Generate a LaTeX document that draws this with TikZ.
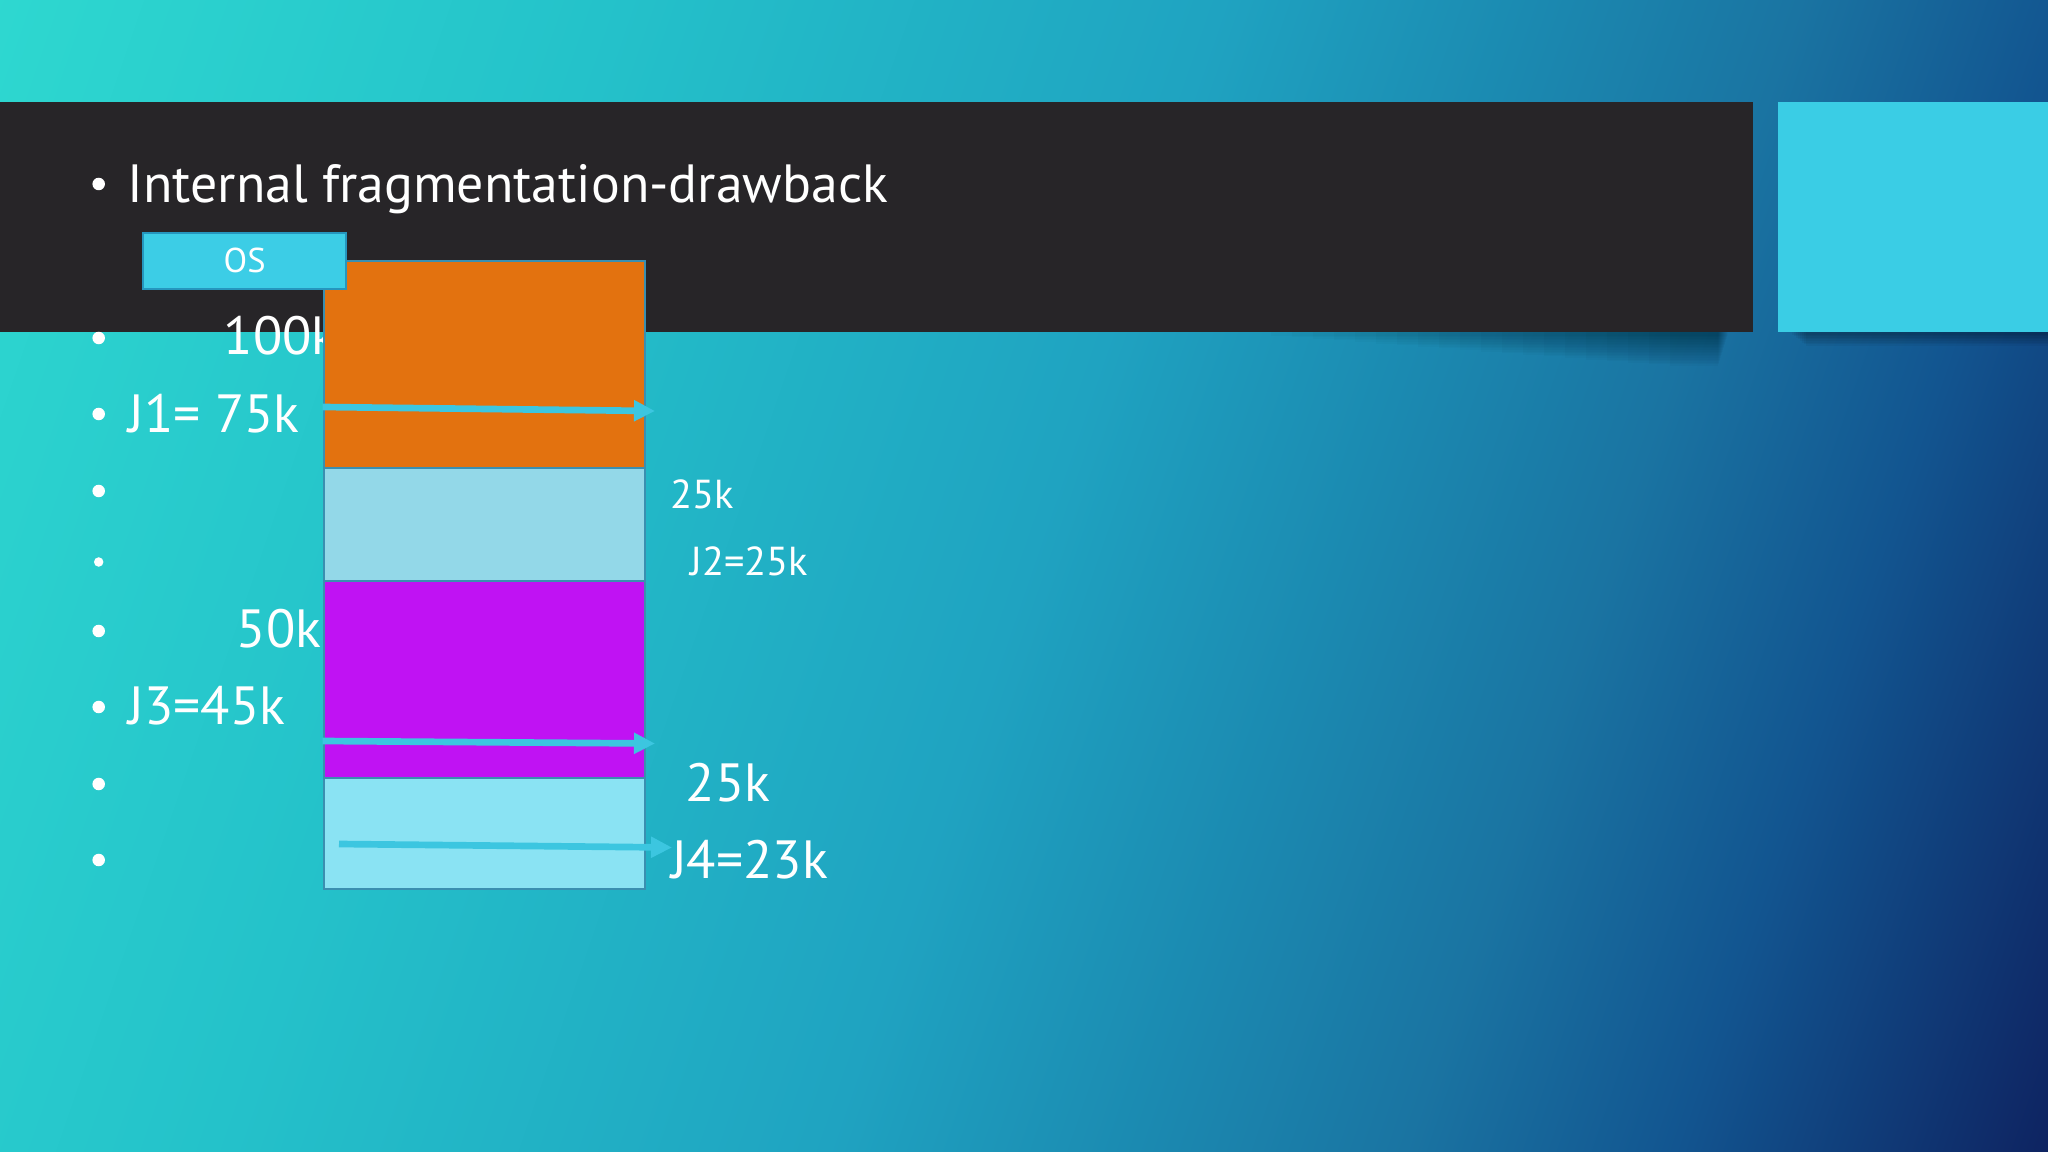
\documentclass[tikz,border=0pt]{standalone}
\usepackage{fontspec}
\setmainfont{PT Sans}
\usetikzlibrary{arrows.meta}
\definecolor{bgA}{HTML}{2ED8D0}
\definecolor{bgB}{HTML}{24C2CA}
\definecolor{bgC}{HTML}{1FA3C1}
\definecolor{bgD}{HTML}{1B8AB1}
\definecolor{bgE}{HTML}{1A74A2}
\definecolor{bgF}{HTML}{125590}
\definecolor{bgG}{HTML}{0E2260}
\definecolor{bandgray}{HTML}{272528}
\definecolor{sqcyan}{HTML}{3ACDE5}
\definecolor{oscyan}{HTML}{3CCDE6}
\definecolor{osline}{HTML}{2596BE}
\definecolor{segline}{HTML}{3A8FB0}
\definecolor{segorange}{HTML}{E3720F}
\definecolor{seglight}{HTML}{93D8E8}
\definecolor{segpurple}{HTML}{C012F3}
\definecolor{seglighter}{HTML}{8AE3F3}
\definecolor{arrowcyan}{HTML}{3CC6E0}
\pgfdeclarehorizontalshading{slidebg}{100bp}{color(0bp)=(bgA); color(18bp)=(bgA); color(34bp)=(bgB); color(50bp)=(bgC); color(58bp)=(bgD); color(65bp)=(bgE); color(72bp)=(bgF); color(82bp)=(bgG); color(100bp)=(bgG)}
\begin{document}
\begin{tikzpicture}[x=0.01cm, y=-0.01cm,
  biglbl/.style={text=white, inner sep=0pt, anchor=base west, font=\fontsize{15.3pt}{18pt}\selectfont},
  smalllbl/.style={text=white, inner sep=0pt, anchor=base west, font=\fontsize{11.5pt}{13pt}\selectfont},
  dot/.style={circle, fill=white, inner sep=0pt, minimum size=0.125cm},
  smalldot/.style={circle, fill=white, inner sep=0pt, minimum size=0.095cm},
  seg/.style={rectangle, draw=segline, line width=0.6pt, inner sep=0pt, minimum width=3.214cm, anchor=north west},
  osbox/.style={rectangle, fill=oscyan, draw=osline, line width=0.6pt, inner sep=0pt, minimum width=2.03cm, minimum height=0.555cm, text=white, font=\fontsize{9.8pt}{11pt}\selectfont},
  jarrow/.style={draw=arrowcyan, line width=1.9pt, -{Triangle[length=0.21cm, width=0.2cm]}}
]
\useasboundingbox (0,0) rectangle (2048,1152);
% background
\shade[shading=slidebg, shading angle=-19] (0,0) rectangle (2048,1152);
% shadows
\foreach \i in {1,...,20} {
  \fill[black, opacity=0.02] (1250+21*\i,332) rectangle (1728-0.5*\i,334+1.6*\i);
}
\foreach \i in {1,...,8} {
  \fill[black, opacity=0.045] (1790+2*\i,332) rectangle (2048,333+1.6*\i);
}
% title band and side square
\fill[bandgray] (0,102) rectangle (1753,332);
\fill[sqcyan] (1778,102) rectangle (2048,332);
% title
\node[dot] (b0) at (98.7,184) {};
\node[biglbl] (title) at (127,203) {Internal fragmentation-drawback};
% left labels
\node[biglbl] (t100) at (223,355) {100k};
\node[biglbl] (tJ1) at (128,432.7) {J1= 75k};
\node[biglbl] (t50) at (236,647.7) {50k};
\node[biglbl] (tJ3) at (128,725) {J3=45k};
% bullets
\node[dot] (b1) at (98.7,338) {};
\node[dot] (b2) at (98.7,414) {};
\node[dot] (b3) at (98.7,491) {};
\node[smalldot] (b4) at (98.7,562) {};
\node[dot] (b5) at (98.7,631) {};
\node[dot] (b6) at (98.7,707) {};
\node[dot] (b7) at (98.7,784) {};
\node[dot] (b8) at (98.7,860) {};
% memory column
\node[seg, fill=segorange, minimum height=2.07cm] (m1) at (322.6,260) {};
\node[seg, fill=seglight, minimum height=1.13cm] (m2) at (322.6,467) {};
\node[seg, fill=segpurple, minimum height=1.965cm] (m3) at (322.6,580) {};
\node[seg, fill=seglighter, minimum height=1.115cm] (m4) at (322.6,776.5) {};
% OS box
\node[osbox, anchor=north west] (os) at (142,232) {OS};
% right labels
\node[smalllbl] (s25) at (669.5,509) {25k};
\node[smalllbl] (sJ2) at (689.6,575) {J2=25k};
\node[biglbl] (t25) at (685,801.7) {25k};
\node[biglbl] (tJ4) at (670.6,878) {J4=23k};
% arrows
\coordinate (a1s) at (322.6,407);
\coordinate (a1e) at (655,411);
\coordinate (a2s) at (322.6,741);
\coordinate (a2e) at (655,743.5);
\coordinate (a3s) at (339,844);
\coordinate (a3e) at (672,847.5);
\draw[jarrow] (a1s) -- (a1e);
\draw[jarrow] (a2s) -- (a2e);
\draw[jarrow] (a3s) -- (a3e);
\end{tikzpicture}
\end{document}
